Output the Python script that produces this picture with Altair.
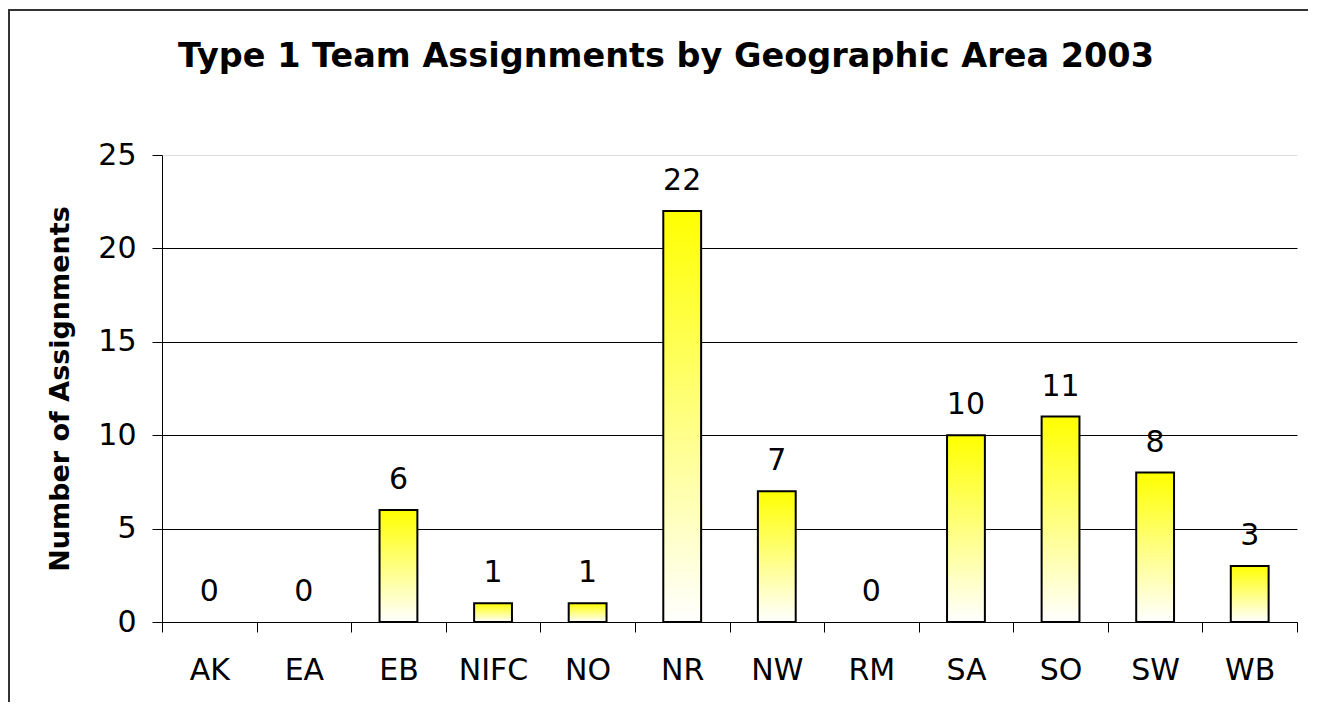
import altair as alt
import pandas as pd

areas = ["AK", "EA", "EB", "NIFC", "NO", "NR", "NW", "RM", "SA", "SO", "SW", "WB"]
assignments = [0, 0, 6, 1, 1, 22, 7, 0, 10, 11, 8, 3]
y_ticks = [0, 5, 10, 15, 20, 25]
title_text = "Type 1 Team Assignments by Geographic Area 2003"
y_title = "Number of Assignments"

df = pd.DataFrame({"area": areas, "n": assignments})

FONT = "DejaVu Sans"

gradient = alt.Gradient(
    gradient="linear",
    stops=[alt.GradientStop(color="#ffff00", offset=0),
           alt.GradientStop(color="#ffffff", offset=1)],
    x1=0, x2=0, y1=0, y2=1,
)

x_enc = alt.X(
    "area:N", sort=areas, title=None,
    scale=alt.Scale(paddingInner=0, paddingOuter=0),
    axis=alt.Axis(labelAngle=0, tickBand="extent", tickSize=10, tickColor="black",
                  domainColor="black", labelFont=FONT, labelFontSize=30,
                  labelColor="black", labelPadding=23, grid=False),
)
y_enc = alt.Y(
    "n:Q", scale=alt.Scale(domain=[0, 25], nice=False),
    axis=alt.Axis(values=y_ticks, title=y_title, titleFont=FONT, titleFontSize=27,
                  titleFontWeight="bold", titleColor="black", titleX=-102, titleY=233.5,
                  titleAngle=270, titleBaseline="middle", titleAlign="center",
                  tickSize=10, tickColor="black", domainColor="black",
                  labelFont=FONT, labelFontSize=30, labelColor="black", labelPadding=16,
                  gridColor=alt.condition("datum.value == 25", alt.value("#dddddd"), alt.value("black")),
                  gridWidth=1),
)

base = alt.Chart(df).encode(x=x_enc, y=y_enc)

bars = base.transform_filter("datum.n > 0").mark_bar(
    fill=gradient, stroke="black", strokeWidth=2, width=alt.RelativeBandSize(0.4))
labels = base.mark_text(font=FONT, fontSize=30, baseline="alphabetic", dy=-21, color="black").encode(
    text="n:Q")

border = alt.Chart(pd.DataFrame({"f": [0]})).mark_rect(
    fill="white", fillOpacity=0, stroke="#333333", strokeWidth=2
).encode(x=alt.value(-153), x2=alt.value(1400), y=alt.value(-145), y2=alt.value(900))

chart = alt.layer(border, bars, labels).properties(
    width=1135, height=467,
    title=alt.Title(title_text, font=FONT, fontSize=33.5, fontWeight="bold", color="black",
                    anchor="middle", dx=-63.5, offset=-91, baseline="alphabetic"),
    autosize=alt.AutoSizeParams(type="none"),
    padding={"left": 154, "top": 147, "right": 11, "bottom": 80},
    background="white",
).configure_view(stroke=None)

chart.save("out.html", embed_options={"renderer": "svg", "actions": False})
